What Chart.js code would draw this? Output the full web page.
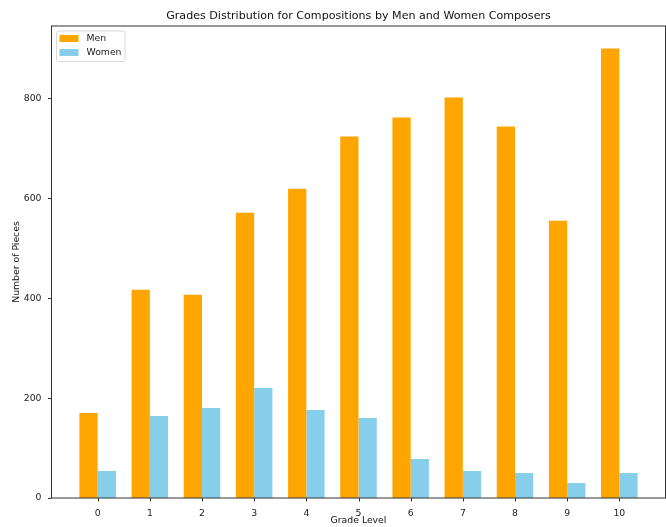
<!DOCTYPE html>
<html>
<head>
<meta charset="utf-8">
<script src="https://cdn.jsdelivr.net/npm/chart.js@4/dist/chart.umd.min.js"></script>
<style>
  html, body { margin: 0; padding: 0; background: #fff; }
  #wrap { width: 666px; height: 527px; }
</style>
</head>
<body>
<div id="wrap"><canvas id="grades-chart"></canvas></div>
<script>
const grades = [0, 1, 2, 3, 4, 5, 6, 7, 8, 9, 10];
const menPieces = [170, 417, 407, 571, 619, 724, 762, 802, 744, 555, 900];
const womenPieces = [54, 164, 180, 220, 176, 160, 78, 54, 50, 30, 50];
const yTicks = [0, 200, 400, 600, 800];

//-------------------------------------------------//

Chart.defaults.font.family = 'DejaVu Sans';
Chart.defaults.font.size = 9.3;
Chart.defaults.color = '#222';

const textPlugin = {
    id: 'mplText',
    afterDraw(chart) {
        const c = chart.ctx;
        const a = chart.chartArea;
        const xs = chart.scales.x, ys = chart.scales.y;
        c.save();
        // box round the plot
        c.strokeStyle = '#333';
        c.lineWidth = 1;
        c.strokeRect(a.left, a.top, a.right - a.left, a.bottom - a.top);

        // tick marks
        c.beginPath();
        grades.forEach(g => {
            const px = Math.round(xs.getPixelForValue(g)) + 0.5;
            c.moveTo(px, a.bottom);
            c.lineTo(px, a.bottom + 3.5);
        });
        yTicks.forEach(v => {
            const py = Math.round(ys.getPixelForValue(v)) + 0.5;
            c.moveTo(a.left, py);
            c.lineTo(a.left - 3.5, py);
        });
        c.stroke();

        // title and axis labels
        c.fillStyle = '#111';
        c.textAlign = 'center';
        c.textBaseline = 'middle';
        c.font = '11.1px "DejaVu Sans"';
        c.fillText('Grades Distribution for Compositions by Men and Women Composers', (a.left + a.right) / 2, 16);
        c.font = '9.3px "DejaVu Sans"';
        c.fillText('Grade Level', (a.left + a.right) / 2, 521);
        c.translate(17, (a.top + a.bottom) / 2);
        c.rotate(-Math.PI / 2);
        c.fillText('Number of Pieces', 0, 0);
        c.restore();

        // legend, top left inside the plot
        c.save();
        const lx = a.left + 5, ly = a.top + 5;
        c.fillStyle = 'rgba(255,255,255,0.8)';
        c.strokeStyle = '#d8d8d8';
        c.beginPath();
        c.roundRect(lx, ly, 68.5, 30.5, 2);
        c.fill();
        c.stroke();
        chart.data.datasets.forEach((ds, i) => {
            const y = ly + 4 + i * 14;
            c.fillStyle = ds.backgroundColor;
            c.fillRect(lx + 3, y, 19, 7);
            c.fillStyle = '#222';
            c.font = '9.3px "DejaVu Sans"';
            c.textAlign = 'left';
            c.textBaseline = 'middle';
            c.fillText(ds.label, lx + 30, y + 4);
        });
        c.restore();
    }
};

const ctx = document.getElementById('grades-chart').getContext('2d');
const chart = new Chart(ctx, {
    type: 'bar',
    data: {
        datasets: [{
            label: 'Men',
            backgroundColor: '#FFA500',
            data: grades.map((g, i) => ({ x: g, y: menPieces[i] }))
        }, {
            label: 'Women',
            backgroundColor: '#87CEEB',
            data: grades.map((g, i) => ({ x: g, y: womenPieces[i] }))
        }]
    },
    options: {
        responsive: true,
        maintainAspectRatio: false,
        animation: false,
        categoryPercentage: 0.7,
        barPercentage: 1.0,
        layout: { padding: { top: 26, right: 0.5, left: 0, bottom: 0 } },
        plugins: {
            legend: { display: false },
            tooltip: { enabled: false }
        },
        scales: {
            x: {
                type: 'linear',
                offset: false,
                min: -0.885,
                max: 10.885,
                border: { display: false },
                grid: { display: false, tickLength: 3.5 },
                ticks: { stepSize: 1, padding: 6.5, color: '#222' },
                afterBuildTicks: (scale) => {
                    scale.ticks = grades.map(g => ({ value: g }));
                },
                afterFit: (scale) => { scale.height = 29; }
            },
            y: {
                min: 0,
                max: 945,
                border: { display: false },
                grid: { display: false, tickLength: 3.5 },
                ticks: { padding: 6.5, color: '#222' },
                afterBuildTicks: (scale) => {
                    scale.ticks = yTicks.map(v => ({ value: v }));
                },
                afterFit: (scale) => { scale.width = 51.5; }
            }
        }
    },
    plugins: [textPlugin]
});
</script>
</body>
</html>
